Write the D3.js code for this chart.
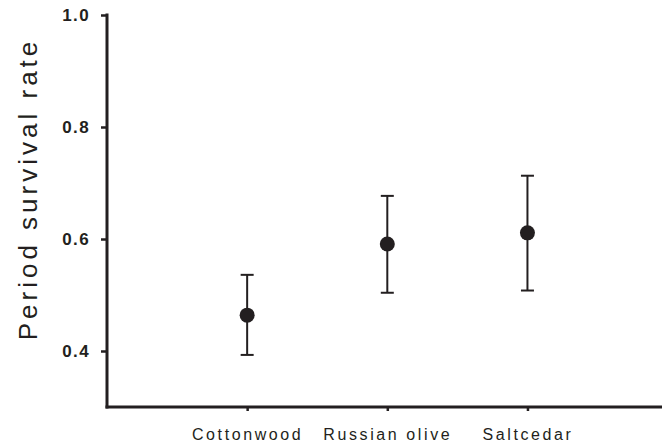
<!DOCTYPE html>
<html>
<head>
<meta charset="utf-8">
<script src="https://cdn.jsdelivr.net/npm/d3@7"></script>
<style>
  body { margin: 0; background: #fff; }
  svg { display: block; }
</style>
</head>
<body>
<div id="chart"></div>
<script>
const categories = ["Cottonwood", "Russian olive", "Saltcedar"]
const survival = [0.464, 0.591, 0.611]
const upper = [0.536, 0.677, 0.713]
const lower = [0.393, 0.504, 0.508]
const yTicks = [0.4, 0.6, 0.8, 1.0]

const width = 663
const height = 447
const ink = "#231f20"

const svg = d3.select("#chart")
  .append("svg")
  .attr("width", width)
  .attr("height", height)

// categories sit at 1, 2, 3 on a linear x
const x = d3.scaleLinear().domain([0, 3.96]).range([107, 662])
const y = d3.scaleLinear().domain([0.3, 1.0]).range([407, 15])

const data = categories.map((c, i) => ({
  name: c, pos: i + 1, v: survival[i], hi: upper[i], lo: lower[i]
}))

// y axis
const yAxis = svg.append("g")
  .attr("transform", `translate(${x.range()[0]},0)`)
  .call(d3.axisLeft(y).tickValues(yTicks).tickFormat(d3.format(".1f"))
    .tickSize(6).tickSizeOuter(0).tickPadding(11))
yAxis.select(".domain")
  .attr("d", `M0,${y.range()[1] - 1.5}V${y.range()[0] + 1.5}`)
  .attr("stroke", ink).attr("stroke-width", 3)
yAxis.selectAll(".tick line").attr("stroke", ink).attr("stroke-width", 2.5)
yAxis.selectAll(".tick text")
  .attr("fill", ink)
  .style("font-family", "'Liberation Sans', Arial, sans-serif")
  .style("font-size", "17px")
  .style("font-weight", "bold")
  .style("letter-spacing", "1.4px")

// x axis
const xAxis = svg.append("g")
  .attr("transform", `translate(0,${y.range()[0]})`)
  .call(d3.axisBottom(x).tickValues(data.map(d => d.pos))
    .tickFormat((d, i) => categories[i]).tickSize(4).tickSizeOuter(0).tickPadding(18))
xAxis.select(".domain")
  .attr("d", `M${x.range()[0] - 1.5},0H${x.range()[1]}`)
  .attr("stroke", ink).attr("stroke-width", 3)
xAxis.selectAll(".tick line").attr("stroke", ink).attr("stroke-width", 2.5)
xAxis.selectAll(".tick text")
  .attr("fill", ink)
  .style("font-family", "'Liberation Sans', Arial, sans-serif")
  .style("font-size", "16px")
  .style("letter-spacing", "2.6px")

// y title
svg.append("text")
  .attr("transform", `translate(37,${(y(0.3) + y(1.0)) / 2 - 22}) rotate(-90)`)
  .attr("text-anchor", "middle")
  .attr("fill", ink)
  .style("font-family", "'Liberation Sans', Arial, sans-serif")
  .style("font-size", "26px")
  .style("letter-spacing", "4px")
  .text("Period survival rate")

// error bars
const bars = svg.append("g")
  .selectAll("g")
  .data(data)
  .enter()
    .append("g")
    .attr("stroke", ink)
    .attr("stroke-width", 2)

bars.append("line")
  .attr("x1", d => x(d.pos)).attr("x2", d => x(d.pos))
  .attr("y1", d => y(d.hi)).attr("y2", d => y(d.lo))
bars.append("line")
  .attr("x1", d => x(d.pos) - 6.5).attr("x2", d => x(d.pos) + 6.5)
  .attr("y1", d => y(d.hi)).attr("y2", d => y(d.hi))
bars.append("line")
  .attr("x1", d => x(d.pos) - 6.5).attr("x2", d => x(d.pos) + 6.5)
  .attr("y1", d => y(d.lo)).attr("y2", d => y(d.lo))

svg.append("g")
  .selectAll("circle")
  .data(data)
  .enter()
    .append("circle")
    .attr("cx", d => x(d.pos))
    .attr("cy", d => y(d.v))
    .attr("r", 7.5)
    .attr("fill", ink)
</script>
</body>
</html>
